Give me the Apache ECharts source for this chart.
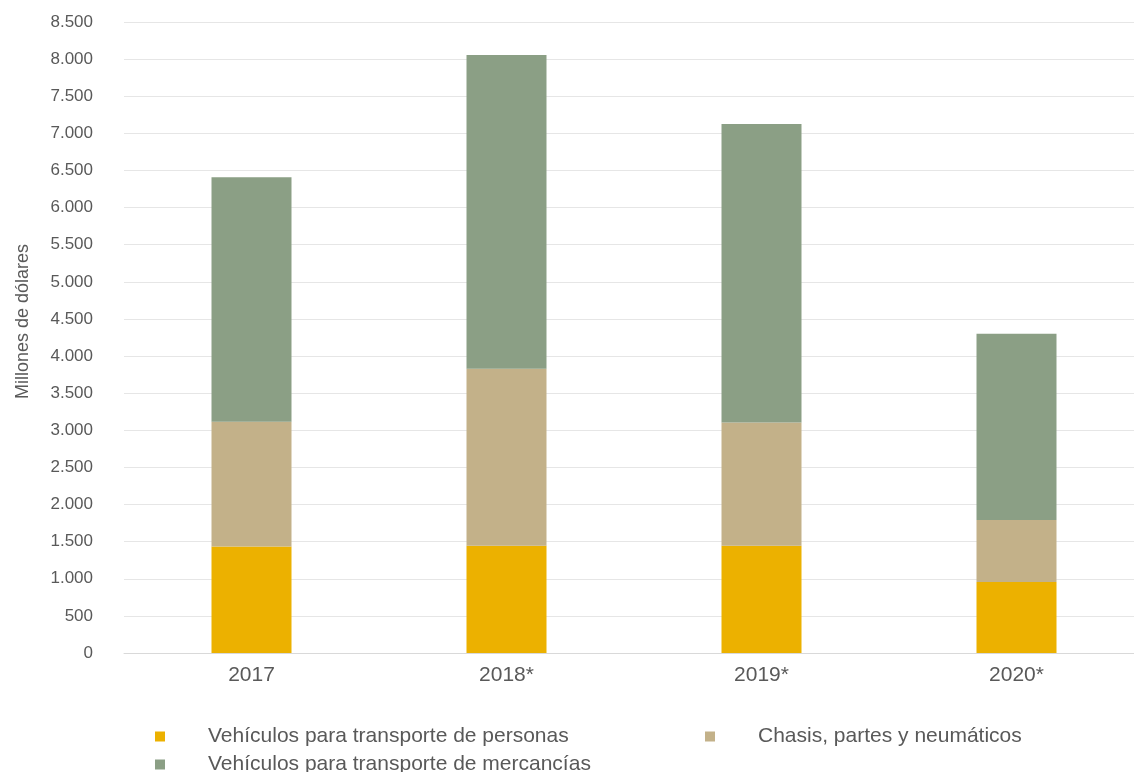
<!DOCTYPE html>
<html>
<head>
<meta charset="utf-8">
<script src="https://cdn.jsdelivr.net/npm/echarts@6/dist/echarts.min.js"></script>
<style>html,body{margin:0;padding:0;background:#fff;overflow:hidden;width:1134px;height:772px}#c{width:1144px;height:772px}</style>
</head>
<body>
<div id="c"></div>
<script>
const categories = ['2017', '2018*', '2019*', '2020*'];
const personas = [1435, 1445, 1445, 955];
const chasis = [1680, 2385, 1660, 835];
const mercancias = [3295, 4225, 4020, 2510];
const seriesNames = ['Vehículos para transporte de personas', 'Chasis, partes y neumáticos', 'Vehículos para transporte de mercancías'];
const colors = ['#ECB100', '#C3B189', '#8B9F85'];

const chart = echarts.init(document.getElementById('c'));
const font = 'Liberation Sans, Arial, sans-serif';
const legendText = {color: '#595959', fontSize: 21, fontFamily: font, padding: [0, 0, 0, 38]};
const legendBase = {icon: 'rect', itemWidth: 10, itemHeight: 10, textStyle: legendText};
chart.setOption({
  animation: false,
  color: colors,
  grid: {left: 124, top: 22, right: 0, height: 631},
  legend: [
    Object.assign({data: [seriesNames[0]], left: 150, top: 721}, legendBase),
    Object.assign({data: [seriesNames[1]], left: 700, top: 721}, legendBase),
    Object.assign({data: [seriesNames[2]], left: 150, top: 749}, legendBase)
  ],
  xAxis: {
    type: 'category', data: categories,
    axisLine: {lineStyle: {color: '#d9d9d9'}},
    axisTick: {show: false},
    axisLabel: {color: '#595959', fontSize: 21, fontFamily: font, margin: 12}
  },
  yAxis: {
    type: 'value', min: 0, max: 8500, interval: 500,
    name: 'Millones de dólares', nameLocation: 'middle', nameGap: 92, nameRotate: 90,
    nameTextStyle: {color: '#595959', fontSize: 18, fontFamily: font, padding: [0, 0, 0, 32]},
    axisLine: {show: false}, axisTick: {show: false},
    splitLine: {lineStyle: {color: '#e6e6e6', width: 1}},
    axisLabel: {color: '#595959', fontSize: 17, fontFamily: font, margin: 31,
      formatter: v => v.toLocaleString('de-DE')}
  },
  series: [
    {name: seriesNames[0], type: 'bar', stack: 't', data: personas, barWidth: 80},
    {name: seriesNames[1], type: 'bar', stack: 't', data: chasis, barWidth: 80},
    {name: seriesNames[2], type: 'bar', stack: 't', data: mercancias, barWidth: 80}
  ]
});
</script>
</body>
</html>
